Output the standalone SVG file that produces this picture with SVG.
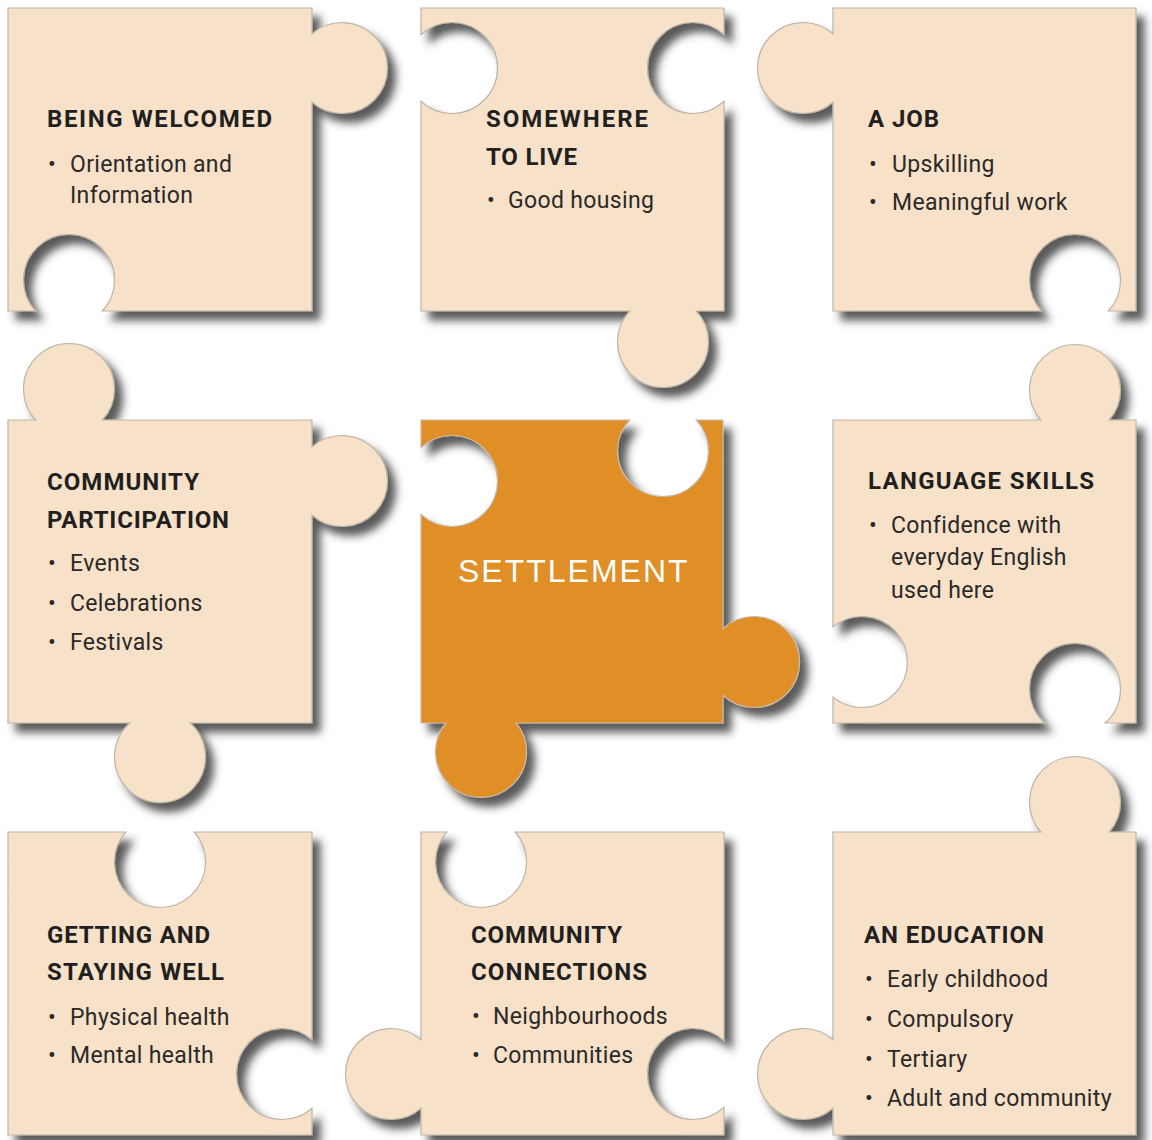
<svg xmlns="http://www.w3.org/2000/svg" width="1152" height="1140" viewBox="0 0 1152 1140">
  <defs>
    <filter id="shadow" x="-10%" y="-10%" width="130%" height="130%">
      <feDropShadow dx="8" dy="9" stdDeviation="4" flood-color="#2e2e2e" flood-opacity="0.8"/>
    </filter>
    <style>
      .piece { fill: #f7e1c8; stroke: #bdb5a7; stroke-width: 1.2; filter: url(#shadow); }
      .core { fill: #e08e27; stroke: #c9b9a8; }
      .head { font-family: Roboto, "Liberation Sans", sans-serif; font-weight: 700; font-size: 24px; fill: #221f1f; }
      .item { font-family: Roboto, "Liberation Sans", sans-serif; font-weight: 400; font-size: 23px; fill: #2b2928; letter-spacing: 0.35px; }
      .title { font-family: "Liberation Sans", Arial, sans-serif; font-size: 32px; fill: #ffffff; letter-spacing: 2px; }
    </style>
  </defs>

  <rect x="0" y="0" width="1152" height="1140" fill="#ffffff"/>

  <!-- top row -->
  <g id="being-welcomed">
    <path class="piece" d="M8,8 H312 V33.8 A45.5,45.5 0 1 1 312,102.2 V311 H102.3 A45.5,45.5 0 1 0 35.7,311 H8 Z"/>
    <text class="head" x="47" y="127" textLength="225" lengthAdjust="spacing">BEING WELCOMED</text>
    <text class="item" x="48" y="172">•</text>
    <text class="item" x="70" y="172">Orientation and</text>
    <text class="item" x="70" y="203">Information</text>
  </g>

  <g id="somewhere-to-live">
    <path class="piece" d="M421,8 H724 V34.7 A45.5,45.5 0 1 0 724,101.3 V311 H696.3 A45.5,45.5 0 1 1 629.7,311 H421 V101.3 A45.5,45.5 0 1 0 421,34.7 Z"/>
    <text class="head" x="486" y="127" textLength="162" lengthAdjust="spacing">SOMEWHERE</text>
    <text class="head" x="486" y="165" textLength="91" lengthAdjust="spacing">TO LIVE</text>
    <text class="item" x="487" y="208">•</text>
    <text class="item" x="508" y="208">Good housing</text>
  </g>

  <g id="a-job">
    <path class="piece" d="M833,8 H1136 V311 H1108.3 A45.5,45.5 0 1 0 1041.7,311 H833 V102.2 A45.5,45.5 0 1 1 833,33.8 Z"/>
    <text class="head" x="868" y="127" textLength="71" lengthAdjust="spacing">A JOB</text>
    <text class="item" x="869" y="172">•</text>
    <text class="item" x="892" y="172">Upskilling</text>
    <text class="item" x="869" y="210">•</text>
    <text class="item" x="892" y="210">Meaningful work</text>
  </g>

  <!-- middle row -->
  <g id="community-participation">
    <path class="piece" d="M8,420 H35.7 A45.5,45.5 0 1 1 102.3,420 H312 V446.8 A45.5,45.5 0 1 1 312,515.2 V723 H190.2 A45.5,45.5 0 1 1 129.8,723 H8 Z"/>
    <text class="head" x="47" y="490" textLength="152" lengthAdjust="spacing">COMMUNITY</text>
    <text class="head" x="47" y="528" textLength="182" lengthAdjust="spacing">PARTICIPATION</text>
    <text class="item" x="48" y="571">•</text>
    <text class="item" x="70" y="571">Events</text>
    <text class="item" x="48" y="611">•</text>
    <text class="item" x="70" y="611">Celebrations</text>
    <text class="item" x="48" y="650">•</text>
    <text class="item" x="70" y="650">Festivals</text>
  </g>

  <g id="settlement">
    <path class="piece core" d="M421,420 H629.7 A45.5,45.5 0 1 0 696.3,420 H723 V628.7 A45.5,45.5 0 1 1 723,695.3 V723 H516.1 A45.5,45.5 0 1 1 445.9,723 H421 V514.3 A45.5,45.5 0 1 0 421,447.7 Z"/>
    <text class="title" x="458" y="582">SETTLEMENT</text>
  </g>

  <g id="language-skills">
    <path class="piece" d="M833,420 H1040.8 A45.5,45.5 0 1 1 1109.2,420 H1136 V723 H1105.2 A45.5,45.5 0 1 0 1044.8,723 H833 V697.1 A45.5,45.5 0 1 0 833,626.9 Z"/>
    <text class="head" x="868" y="489" textLength="226" lengthAdjust="spacing">LANGUAGE SKILLS</text>
    <text class="item" x="869" y="533">•</text>
    <text class="item" x="891" y="533">Confidence with</text>
    <text class="item" x="891" y="565">everyday English</text>
    <text class="item" x="891" y="598">used here</text>
  </g>

  <!-- bottom row -->
  <g id="getting-and-staying-well">
    <path class="piece" d="M8,832 H125.8 A45.5,45.5 0 1 0 194.2,832 H312 V1039.8 A45.5,45.5 0 1 0 312,1108.2 V1135 H8 Z"/>
    <text class="head" x="47" y="943" textLength="163" lengthAdjust="spacing">GETTING AND</text>
    <text class="head" x="47" y="980" textLength="177" lengthAdjust="spacing">STAYING WELL</text>
    <text class="item" x="48" y="1025">•</text>
    <text class="item" x="70" y="1025">Physical health</text>
    <text class="item" x="48" y="1063">•</text>
    <text class="item" x="70" y="1063">Mental health</text>
  </g>

  <g id="community-connections">
    <path class="piece" d="M421,832 H446.8 A45.5,45.5 0 1 0 515.2,832 H724 V1040.7 A45.5,45.5 0 1 0 724,1107.3 V1135 H421 V1108.2 A45.5,45.5 0 1 1 421,1039.8 Z"/>
    <text class="head" x="471" y="943" textLength="151" lengthAdjust="spacing">COMMUNITY</text>
    <text class="head" x="471" y="980" textLength="176" lengthAdjust="spacing">CONNECTIONS</text>
    <text class="item" x="472" y="1024">•</text>
    <text class="item" x="493" y="1024">Neighbourhoods</text>
    <text class="item" x="472" y="1063">•</text>
    <text class="item" x="493" y="1063">Communities</text>
  </g>

  <g id="an-education">
    <path class="piece" d="M833,832 H1040.8 A45.5,45.5 0 1 1 1109.2,832 H1136 V1135 H833 V1108.2 A45.5,45.5 0 1 1 833,1039.8 Z"/>
    <text class="head" x="864" y="943" textLength="180" lengthAdjust="spacing">AN EDUCATION</text>
    <text class="item" x="865" y="987">•</text>
    <text class="item" x="887" y="987">Early childhood</text>
    <text class="item" x="865" y="1027">•</text>
    <text class="item" x="887" y="1027">Compulsory</text>
    <text class="item" x="865" y="1067">•</text>
    <text class="item" x="887" y="1067">Tertiary</text>
    <text class="item" x="865" y="1106">•</text>
    <text class="item" x="887" y="1106">Adult and community</text>
  </g>

  <g id="connectors"/>
</svg>
